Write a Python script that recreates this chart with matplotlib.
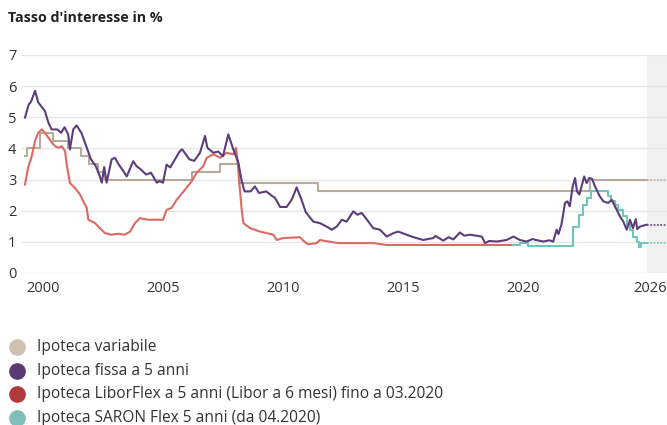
import matplotlib
matplotlib.use("Agg")
import matplotlib.pyplot as plt
from matplotlib.lines import Line2D

# ============================
# DATA
# ============================
VAR_YEARS = [1999.25, 1999.35, 1999.87, 2000.43, 2001.05, 2001.6, 2001.9, 2002.3,
             2002.6, 2006.2, 2007.38, 2008.15, 2011.47, 2022.8, 2025.15]
VAR_RATES = [3.75, 4.0, 4.5, 4.25, 4.0, 3.75, 3.5, 3.25,
             3.0, 3.25, 3.5, 2.875, 2.625, 3.0, 3.0]

FIX_YEARS = [1999.25, 1999.4, 1999.5, 1999.67, 1999.8, 2000.08, 2000.22, 2000.36, 2000.6,
             2000.75, 2000.9, 2001.05, 2001.12, 2001.26, 2001.4, 2001.6, 2001.8, 2002.0,
             2002.2, 2002.37, 2002.45, 2002.55, 2002.65, 2002.86, 2003.0, 2003.14, 2003.35,
             2003.49, 2003.76, 2003.9, 2004.04, 2004.3, 2004.5, 2004.74, 2004.85, 2005.0,
             2005.15, 2005.3, 2005.7, 2005.8, 2006.1, 2006.3, 2006.54, 2006.75, 2006.85,
             2007.1, 2007.3, 2007.5, 2007.72, 2007.93, 2008.14, 2008.28, 2008.4, 2008.65,
             2008.83, 2009.0, 2009.3, 2009.5, 2009.67, 2009.88, 2010.15, 2010.36, 2010.57,
             2010.75, 2010.95, 2011.26, 2011.54, 2011.82, 2012.03, 2012.24, 2012.45, 2012.65,
             2012.93, 2013.1, 2013.28, 2013.5, 2013.76, 2014.04, 2014.32, 2014.6, 2014.8,
             2015.15, 2015.43, 2015.85, 2016.1, 2016.26, 2016.35, 2016.68, 2016.9, 2017.1,
             2017.37, 2017.55, 2017.8, 2018.05, 2018.28, 2018.42, 2018.6, 2018.9, 2019.32,
             2019.6, 2019.87, 2020.15, 2020.4, 2020.6, 2020.85, 2021.1, 2021.26, 2021.4,
             2021.48, 2021.6, 2021.75, 2021.85, 2021.95, 2022.07, 2022.17, 2022.25, 2022.35,
             2022.48, 2022.55, 2022.65, 2022.76, 2022.88, 2023.0, 2023.2, 2023.35, 2023.55,
             2023.7, 2023.83, 2024.04, 2024.18, 2024.32, 2024.46, 2024.58, 2024.7, 2024.76,
             2024.87, 2025.0, 2025.15]
FIX_RATES = [4.99, 5.4, 5.5, 5.85, 5.48, 5.2, 4.84, 4.61, 4.61,
             4.5, 4.68, 4.45, 3.97, 4.61, 4.74, 4.5, 4.07, 3.65,
             3.43, 3.1, 2.9, 3.4, 2.9, 3.65, 3.7, 3.5, 3.27,
             3.1, 3.59, 3.43, 3.35, 3.16, 3.22, 2.9, 2.95, 2.9,
             3.48, 3.39, 3.91, 3.97, 3.65, 3.6, 3.86, 4.4, 4.02,
             3.86, 3.9, 3.75, 4.45, 3.97, 3.54, 2.95, 2.62, 2.62,
             2.78, 2.57, 2.62, 2.5, 2.41, 2.12, 2.12, 2.35, 2.75,
             2.4, 1.95, 1.65, 1.6, 1.49, 1.39, 1.49, 1.71, 1.65,
             1.98, 1.87, 1.93, 1.71, 1.44, 1.39, 1.17, 1.28, 1.33,
             1.23, 1.15, 1.06, 1.1, 1.12, 1.19, 1.04, 1.15, 1.08,
             1.3, 1.2, 1.23, 1.2, 1.17, 0.96, 1.03, 1.01, 1.06,
             1.17, 1.06, 1.01, 1.09, 1.05, 1.01, 1.05, 1.01, 1.39,
             1.25, 1.55, 2.25, 2.3, 2.14, 2.78, 3.05, 2.62, 2.52,
             2.89, 3.1, 2.89, 3.05, 3.02, 2.78, 2.46, 2.3, 2.25,
             2.35, 2.14, 1.82, 1.65, 1.39, 1.71, 1.44, 1.73, 1.41,
             1.49, 1.52, 1.55]

LIBOR_YEARS = [1999.25, 1999.38, 1999.53, 1999.67, 1999.8, 1999.95, 2000.08, 2000.22, 2000.36,
               2000.5, 2000.65, 2000.78, 2000.92, 2001.0, 2001.12, 2001.33, 2001.54, 2001.68,
               2001.82, 2001.89, 2002.17, 2002.37, 2002.58, 2002.86, 2003.14, 2003.4, 2003.63,
               2003.83, 2004.04, 2004.39, 2004.67, 2005.0, 2005.15, 2005.36, 2005.57, 2005.92,
               2006.2, 2006.4, 2006.68, 2006.82, 2007.1, 2007.38, 2007.65, 2007.93, 2008.04,
               2008.1, 2008.18, 2008.28, 2008.35, 2008.63, 2009.04, 2009.6, 2009.74, 2010.0,
               2010.7, 2010.9, 2011.05, 2011.4, 2011.54, 2011.75, 2012.3, 2013.76, 2014.3,
               2019.6]
LIBOR_RATES = [2.84, 3.38, 3.75, 4.24, 4.5, 4.61, 4.5, 4.35, 4.2,
               4.07, 4.02, 4.07, 3.91, 3.43, 2.89, 2.73, 2.52, 2.3,
               2.09, 1.71, 1.6, 1.44, 1.28, 1.23, 1.26, 1.23, 1.33,
               1.6, 1.76, 1.71, 1.71, 1.71, 2.03, 2.09, 2.35, 2.68,
               2.95, 3.22, 3.43, 3.7, 3.81, 3.7, 3.86, 3.81, 4.02,
               3.65, 2.89, 2.03, 1.6, 1.44, 1.33, 1.23, 1.06, 1.12,
               1.15, 1.0, 0.92, 0.96, 1.06, 1.03, 0.96, 0.96, 0.9,
               0.9]

SARON_YEARS = [2019.6, 2019.87, 2020.2, 2022.07, 2022.35, 2022.5, 2022.65, 2022.85, 2023.55,
               2023.65, 2023.83, 2023.97, 2024.18, 2024.32, 2024.46, 2024.6, 2024.74, 2024.85,
               2024.9, 2025.15]
SARON_RATES = [0.9, 0.96, 0.87, 1.49, 1.87, 2.19, 2.41, 2.62, 2.46,
               2.3, 2.19, 2.03, 1.82, 1.55, 1.39, 1.17, 1.01, 0.83,
               0.96, 0.96]

LAST_OBS = 2025.15
HORIZON = 2026.0

X_TICKS = [2000, 2005, 2010, 2015, 2020, 2026]
Y_TICKS = [0, 1, 2, 3, 4, 5, 6, 7]

LABELS = ["Ipoteca variabile",
          "Ipoteca fissa a 5 anni",
          "Ipoteca LiborFlex a 5 anni (Libor a 6 mesi) fino a 03.2020",
          "Ipoteca SARON Flex 5 anni (da 04.2020)"]

# ============================
# STYLE
# ============================
C_VAR = "#b9ab9b"
C_FIX = "#5c3d7c"
C_LIB = "#dc6a62"
C_SAR = "#72c4ba"
LEG_COLORS = ["#cfc0b0", "#5a3a75", "#b03a3a", "#7fbfb8"]
TXT = "#333333"

plt.rcParams["font.family"] = ["Open Sans", "DejaVu Sans"]

fig = plt.figure(figsize=(6.67, 4.25), dpi=100)
ax = fig.add_axes([22 / 667, 152 / 425, 645 / 667, 218 / 425])

# forecast band
ax.axvspan(LAST_OBS, HORIZON, color="#f0f0f0", zorder=0, lw=0)

lw = 1.5
ax.step(VAR_YEARS, VAR_RATES, where="post", color=C_VAR, lw=lw, zorder=3)
ax.plot(LIBOR_YEARS, LIBOR_RATES, color=C_LIB, lw=lw, zorder=4)
ax.step(SARON_YEARS, SARON_RATES, where="post", color=C_SAR, lw=lw, zorder=4)
ax.plot(FIX_YEARS, FIX_RATES, color=C_FIX, lw=lw, zorder=5)

# dotted continuation into the shaded band
dots = (0, (1, 1))
for yrs, vals, col in [(VAR_YEARS, VAR_RATES, C_VAR),
                       (FIX_YEARS, FIX_RATES, C_FIX),
                       (SARON_YEARS, SARON_RATES, C_SAR)]:
    ax.plot([LAST_OBS, HORIZON], [vals[-1], vals[-1]], color=col, lw=1.2,
            linestyle=dots, zorder=3)

ax.set_xlim(1999.125, HORIZON)
ax.set_ylim(0, 7)
ax.set_yticks(Y_TICKS)
ax.set_xticks(X_TICKS)
ax.set_xticklabels([str(t) for t in X_TICKS])
ax.get_xticklabels()[-1].set_horizontalalignment("right")
ax.grid(axis="y", color="#e6e6e6", lw=0.9)
ax.set_axisbelow(True)
for s in ax.spines.values():
    s.set_visible(False)
ax.tick_params(length=0, labelsize=10.5, colors=TXT)
ax.tick_params(axis="y", pad=4)
ax.tick_params(axis="x", pad=6)

fig.text(8 / 667, 1 - 18 / 425, "Tasso d'interesse in %", fontsize=10.3,
         fontweight="bold", color="#222222", va="center", ha="left")

# legend
rows = [347, 371, 394, 418]
for y, lab, col in zip(rows, LABELS, LEG_COLORS):
    fig.add_artist(Line2D([17 / 667], [1 - y / 425], marker="o", markersize=11,
                          color=col, linestyle="none", transform=fig.transFigure))
    fig.text(37 / 667, 1 - y / 425, lab, fontsize=11.2, color=TXT,
             va="center", ha="left")

fig.savefig("out.png", dpi=100)
